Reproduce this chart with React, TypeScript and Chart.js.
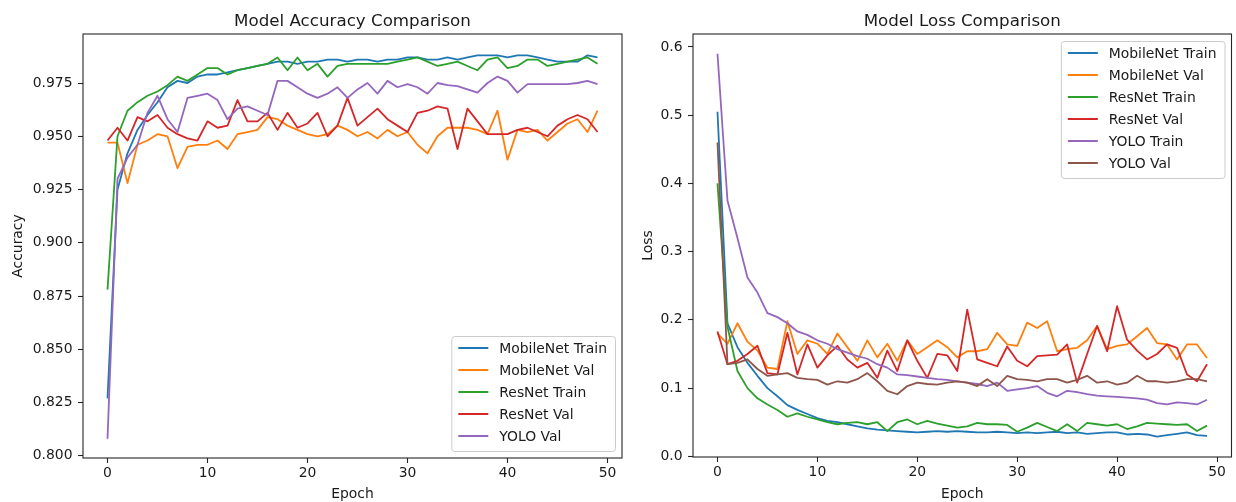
import { useEffect, useRef } from "react";
import { Chart, registerables } from "chart.js";

Chart.register(...registerables);

// ---------- data ----------
const epochs = Array.from({ length: 50 }, (_, i) => i);
const xTickValues = [0, 10, 20, 30, 40, 50];
const accTickValues = [0.8, 0.825, 0.85, 0.875, 0.9, 0.925, 0.95, 0.975];
const lossTickValues = [0.0, 0.1, 0.2, 0.3, 0.4, 0.5, 0.6];

const accMobileNetTrain = [
  0.827, 0.925, 0.942, 0.953, 0.960, 0.966, 0.973, 0.976, 0.975, 0.978,
  0.979, 0.979, 0.980, 0.981, 0.982, 0.983, 0.984, 0.985, 0.985, 0.984,
  0.985, 0.985, 0.986, 0.986, 0.985, 0.986, 0.986, 0.985, 0.986, 0.986,
  0.987, 0.987, 0.986, 0.986, 0.987, 0.986, 0.987, 0.988, 0.988, 0.988,
  0.987, 0.988, 0.988, 0.987, 0.986, 0.985, 0.985, 0.985, 0.988, 0.987,
];
const accMobileNetVal = [
  0.947, 0.947, 0.928, 0.946, 0.948, 0.951, 0.950, 0.935, 0.945, 0.946,
  0.946, 0.948, 0.944, 0.951, 0.952, 0.953, 0.959, 0.958, 0.955, 0.953,
  0.951, 0.950, 0.951, 0.955, 0.953, 0.950, 0.952, 0.949, 0.953, 0.950,
  0.952, 0.946, 0.942, 0.950, 0.954, 0.954, 0.954, 0.953, 0.951, 0.962,
  0.939, 0.953, 0.952, 0.953, 0.948, 0.952, 0.956, 0.958, 0.952, 0.962,
];
const accResNetTrain = [
  0.878, 0.950, 0.962, 0.966, 0.969, 0.971, 0.974, 0.978, 0.976, 0.979,
  0.982, 0.982, 0.979, 0.981, 0.982, 0.983, 0.984, 0.987, 0.981, 0.987,
  0.981, 0.984, 0.978, 0.983, 0.984, 0.984, 0.984, 0.984, 0.984, 0.985,
  0.986, 0.987, 0.985, 0.983, 0.984, 0.985, 0.983, 0.981, 0.986, 0.987,
  0.982, 0.983, 0.986, 0.986, 0.983, 0.984, 0.985, 0.986, 0.987, 0.984,
];
const accResNetVal = [
  0.948, 0.954, 0.948, 0.959, 0.957, 0.960, 0.954, 0.951, 0.949, 0.948,
  0.957, 0.954, 0.955, 0.967, 0.957, 0.957, 0.961, 0.953, 0.961, 0.954,
  0.956, 0.961, 0.950, 0.955, 0.968, 0.955, 0.959, 0.963, 0.958, 0.955,
  0.952, 0.961, 0.962, 0.964, 0.963, 0.944, 0.963, 0.957, 0.951, 0.951,
  0.951, 0.953, 0.954, 0.952, 0.950, 0.955, 0.958, 0.960, 0.958, 0.952,
];
const accYoloVal = [
  0.808, 0.930, 0.940, 0.946, 0.961, 0.969, 0.958, 0.952, 0.968, 0.969,
  0.970, 0.967, 0.958, 0.963, 0.964, 0.962, 0.960, 0.976, 0.976, 0.973,
  0.970, 0.968, 0.970, 0.973, 0.968, 0.972, 0.975, 0.970, 0.976, 0.973,
  0.9745, 0.973, 0.970, 0.975, 0.974, 0.9735, 0.972, 0.9705, 0.975, 0.978,
  0.976, 0.9705, 0.9745, 0.9745, 0.9745, 0.9745, 0.9745, 0.975, 0.976, 0.9745,
];

const lossMobileNetTrain = [
  0.505, 0.195, 0.160, 0.137, 0.118, 0.100, 0.088, 0.075, 0.068, 0.062,
  0.056, 0.052, 0.050, 0.047, 0.044, 0.041, 0.039, 0.038, 0.037, 0.036,
  0.035, 0.036, 0.037, 0.036, 0.037, 0.036, 0.035, 0.035, 0.036, 0.035,
  0.034, 0.035, 0.034, 0.035, 0.036, 0.034, 0.035, 0.033, 0.034, 0.035,
  0.035, 0.032, 0.033, 0.032, 0.029, 0.031, 0.033, 0.035, 0.031, 0.030,
];
const lossMobileNetVal = [
  0.180, 0.165, 0.195, 0.168, 0.155, 0.130, 0.128, 0.198, 0.150, 0.170,
  0.165, 0.150, 0.180, 0.160, 0.140, 0.170, 0.145, 0.165, 0.140, 0.170,
  0.150, 0.160, 0.170, 0.160, 0.145, 0.154, 0.154, 0.157, 0.181, 0.164,
  0.162, 0.196, 0.188, 0.198, 0.154, 0.157, 0.159, 0.170, 0.191, 0.157,
  0.162, 0.164, 0.176, 0.188, 0.166, 0.164, 0.142, 0.164, 0.164, 0.144,
];
const lossResNetTrain = [
  0.400, 0.190, 0.125, 0.100, 0.085, 0.076, 0.068, 0.058, 0.063, 0.058,
  0.054, 0.050, 0.047, 0.049, 0.050, 0.047, 0.050, 0.037, 0.050, 0.054,
  0.047, 0.052, 0.048, 0.045, 0.042, 0.044, 0.049, 0.047, 0.047, 0.046,
  0.036, 0.042, 0.049, 0.043, 0.037, 0.047, 0.037, 0.049, 0.047, 0.045,
  0.047, 0.040, 0.044, 0.049, 0.048, 0.047, 0.046, 0.047, 0.037, 0.045,
];
const lossResNetVal = [
  0.183, 0.135, 0.140, 0.150, 0.162, 0.122, 0.120, 0.181, 0.120, 0.164,
  0.130, 0.148, 0.162, 0.142, 0.130, 0.137, 0.115, 0.155, 0.125, 0.170,
  0.140, 0.115, 0.150, 0.148, 0.125, 0.215, 0.142, 0.137, 0.132, 0.161,
  0.140, 0.132, 0.147, 0.148, 0.149, 0.164, 0.108, 0.150, 0.191, 0.154,
  0.220, 0.171, 0.155, 0.142, 0.150, 0.164, 0.159, 0.120, 0.110, 0.135,
];
const lossYoloTrain = [
  0.590, 0.375, 0.320, 0.262, 0.240, 0.210, 0.204, 0.195, 0.183, 0.178,
  0.170, 0.165, 0.157, 0.152, 0.147, 0.143, 0.135, 0.130, 0.120, 0.119,
  0.117, 0.115, 0.113, 0.112, 0.110, 0.108, 0.106, 0.103, 0.108, 0.096,
  0.098, 0.100, 0.103, 0.093, 0.088, 0.096, 0.094, 0.091, 0.089, 0.088,
  0.087, 0.086, 0.085, 0.083, 0.078, 0.076, 0.079, 0.078, 0.076, 0.083,
];
const lossYoloVal = [
  0.460, 0.135, 0.137, 0.142, 0.128, 0.118, 0.120, 0.122, 0.115, 0.113,
  0.112, 0.105, 0.110, 0.108, 0.113, 0.122, 0.110, 0.096, 0.091, 0.103,
  0.108, 0.106, 0.105, 0.108, 0.110, 0.108, 0.103, 0.113, 0.103, 0.118,
  0.113, 0.112, 0.110, 0.113, 0.113, 0.108, 0.112, 0.118, 0.108, 0.110,
  0.105, 0.108, 0.118, 0.110, 0.110, 0.108, 0.110, 0.113, 0.113, 0.110,
];

// ---------- styling ----------
const C = {
  blue: "#1f77b4",
  orange: "#ff7f0e",
  green: "#2ca02c",
  red: "#d62728",
  purple: "#9467bd",
  brown: "#8c564b",
};
const FONT = '"DejaVu Sans", sans-serif';
const TEXT = "#1a1a1a";

type Cfg = {
  title: string;
  xLabel: string;
  yLabel: string;
  yLabelX: number;
  legendLoc: "lower right" | "upper right";
  padRight: number;
  yWidth: number;
  xHeight: number;
  yMin: number;
  yMax: number;
  yTicks: number[];
  yDecimals: number;
  series: { label: string; data: number[]; color: string }[];
};

function decor(cfg: Cfg) {
  return {
    id: "decor",
    afterDraw(chart: any) {
      const { ctx, chartArea: a } = chart;
      ctx.save();
      // spines
      ctx.strokeStyle = "#262626";
      ctx.lineWidth = 1.1;
      ctx.strokeRect(a.left, a.top, a.right - a.left, a.bottom - a.top);
      // title
      ctx.fillStyle = TEXT;
      ctx.textAlign = "center";
      ctx.textBaseline = "alphabetic";
      ctx.font = `16.7px ${FONT}`;
      ctx.fillText(cfg.title, (a.left + a.right) / 2, 26);
      // axis labels
      ctx.font = `13.9px ${FONT}`;
      ctx.fillText(cfg.xLabel, (a.left + a.right) / 2, 498);
      ctx.save();
      ctx.translate(cfg.yLabelX, (a.top + a.bottom) / 2);
      ctx.rotate(-Math.PI / 2);
      ctx.fillText(cfg.yLabel, 0, 0);
      ctx.restore();
      // legend
      const items = chart.data.datasets.map((d: any) => ({
        label: d.label,
        color: d.borderColor,
      }));
      const n = items.length;
      const maxW = Math.max(...items.map((i: any) => ctx.measureText(i.label).width));
      const w = 7 + 30 + 11 + maxW + 8;
      const h = 12 + 22 * (n - 1) + 15;
      const x0 = a.right - 7 - w;
      const y0 = cfg.legendLoc === "lower right" ? a.bottom - 7 - h : a.top + 7;
      ctx.beginPath();
      (ctx as any).roundRect(x0 + 0.5, y0 + 0.5, w, h, 3);
      ctx.fillStyle = "rgba(255,255,255,0.8)";
      ctx.fill();
      ctx.strokeStyle = "#cccccc";
      ctx.lineWidth = 1;
      ctx.stroke();
      ctx.textAlign = "left";
      items.forEach((it: any, i: number) => {
        const cy = y0 + 12 + 22 * i;
        ctx.strokeStyle = it.color;
        ctx.lineWidth = 2;
        ctx.beginPath();
        ctx.moveTo(x0 + 7, cy);
        ctx.lineTo(x0 + 37, cy);
        ctx.stroke();
        ctx.fillStyle = TEXT;
        ctx.fillText(it.label, x0 + 48, cy + 5);
      });
      ctx.restore();
    },
  };
}

function ChartPanel({ cfg, left, width }: { cfg: Cfg; left: number; width: number }) {
  const ref = useRef<HTMLCanvasElement | null>(null);
  useEffect(() => {
    if (!ref.current) return;
    const n = cfg.series.length;
    const tickFont = { family: FONT, size: 13.9 };
    const chart = new Chart(ref.current, {
      type: "line",
      data: {
        labels: epochs,
        datasets: cfg.series.map((s, i) => ({
          label: s.label,
          data: s.data,
          borderColor: s.color,
          backgroundColor: s.color,
          borderWidth: 1.8,
          pointRadius: 0,
          tension: 0,
          borderJoinStyle: "round",
          fill: false,
          order: n - i,
        })),
      },
      options: {
        animation: false,
        responsive: false,
        devicePixelRatio: 1,
        events: [],
        layout: { padding: { left: 0, top: 34, right: cfg.padRight, bottom: 0 } },
        plugins: {
          legend: { display: false },
          tooltip: { enabled: false },
          title: { display: false },
        },
        scales: {
          x: {
            type: "linear",
            min: -2.45,
            max: 51.45,
            afterBuildTicks: (s: any) => {
              s.ticks = xTickValues.map((v) => ({ value: v }));
            },
            afterFit: (s: any) => {
              s.height = cfg.xHeight;
              s.paddingLeft = 0;
              s.paddingRight = 0;
              s.paddingTop = 0;
              s.paddingBottom = 0;
            },
            grid: {
              display: true,
              drawOnChartArea: false,
              drawTicks: true,
              tickLength: 5,
              tickColor: "#262626",
              tickWidth: 1.1,
            },
            border: { display: false },
            ticks: {
              font: tickFont,
              color: TEXT,
              padding: 2,
              autoSkip: false,
              maxRotation: 0,
              callback: (v: any) => String(v),
            },
          },
          y: {
            type: "linear",
            min: cfg.yMin,
            max: cfg.yMax,
            afterBuildTicks: (s: any) => {
              s.ticks = cfg.yTicks.map((v) => ({ value: v }));
            },
            afterFit: (s: any) => {
              s.width = cfg.yWidth;
              s.paddingLeft = 0;
              s.paddingRight = 0;
              s.paddingTop = 0;
              s.paddingBottom = 0;
            },
            grid: {
              display: true,
              drawOnChartArea: false,
              drawTicks: true,
              tickLength: 5,
              tickColor: "#262626",
              tickWidth: 1.1,
            },
            border: { display: false },
            ticks: {
              font: tickFont,
              color: TEXT,
              padding: 5.5,
              autoSkip: false,
              callback: (v: any) => Number(v).toFixed(cfg.yDecimals),
            },
          },
        },
      },
      plugins: [decor(cfg)],
    } as any);
    return () => chart.destroy();
  }, [cfg]);
  return (
    <canvas
      ref={ref}
      width={width}
      height={502}
      style={{ position: "absolute", left, top: 0, width, height: 502 }}
    />
  );
}

const accCfg: Cfg = {
  title: "Model Accuracy Comparison",
  xLabel: "Epoch",
  yLabel: "Accuracy",
  yLabelX: 22,
  legendLoc: "lower right",
  padRight: 8,
  yWidth: 83,
  xHeight: 44,
  yMin: 0.799,
  yMax: 0.998,
  yTicks: accTickValues,
  yDecimals: 3,
  series: [
    { label: "MobileNet Train", data: accMobileNetTrain, color: C.blue },
    { label: "MobileNet Val", data: accMobileNetVal, color: C.orange },
    { label: "ResNet Train", data: accResNetTrain, color: C.green },
    { label: "ResNet Val", data: accResNetVal, color: C.red },
    { label: "YOLO Val", data: accYoloVal, color: C.purple },
  ],
};

const lossCfg: Cfg = {
  title: "Model Loss Comparison",
  xLabel: "Epoch",
  yLabel: "Loss",
  yLabelX: 22,
  legendLoc: "upper right",
  padRight: 4.5,
  yWidth: 63,
  xHeight: 45,
  yMin: -0.001,
  yMax: 0.619,
  yTicks: lossTickValues,
  yDecimals: 1,
  series: [
    { label: "MobileNet Train", data: lossMobileNetTrain, color: C.blue },
    { label: "MobileNet Val", data: lossMobileNetVal, color: C.orange },
    { label: "ResNet Train", data: lossResNetTrain, color: C.green },
    { label: "ResNet Val", data: lossResNetVal, color: C.red },
    { label: "YOLO Train", data: lossYoloTrain, color: C.purple },
    { label: "YOLO Val", data: lossYoloVal, color: C.brown },
  ],
};

export default function App() {
  return (
    <div
      style={{
        position: "absolute",
        left: 0,
        top: 0,
        width: 1236,
        height: 502,
        background: "#ffffff",
        overflow: "hidden",
      }}
    >
      <ChartPanel cfg={accCfg} left={0} width={630} />
      <ChartPanel cfg={lossCfg} left={630} width={606} />
    </div>
  );
}
